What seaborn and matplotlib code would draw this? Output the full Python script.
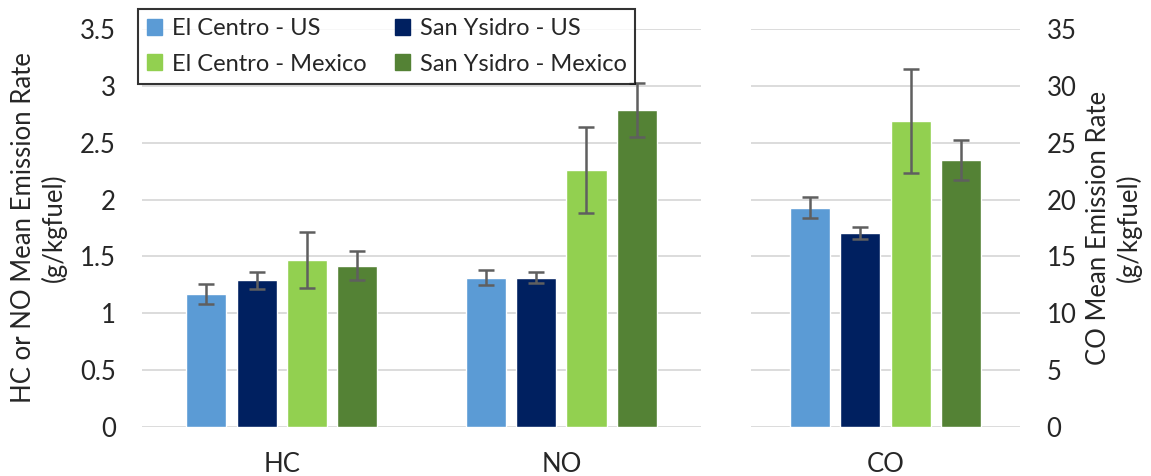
import seaborn as sns
import matplotlib.pyplot as plt
import pandas as pd

# values
sites = ["El Centro - US", "San Ysidro - US", "El Centro - Mexico", "San Ysidro - Mexico"]
colors = ["#5B9BD5", "#002060", "#92D050", "#548235"]

hc_mean = [1.17, 1.29, 1.47, 1.42]
hc_err = [0.09, 0.075, 0.245, 0.13]
no_mean = [1.315, 1.315, 2.26, 2.79]
no_err = [0.07, 0.05, 0.375, 0.24]
co_mean = [19.3, 17.1, 26.9, 23.5]
co_err = [0.9, 0.53, 4.55, 1.73]

left_df = pd.DataFrame({
    "Pollutant": ["HC"] * 4 + ["NO"] * 4,
    "Site": sites * 2,
    "Mean": hc_mean + no_mean,
    "Err": hc_err + no_err,
})
right_df = pd.DataFrame({"Pollutant": ["CO"] * 4, "Site": sites, "Mean": co_mean, "Err": co_err})

sns.set_style("white")
plt.rcParams["font.family"] = ["Lato", "DejaVu Sans"]
FS = 18.5

fig = plt.figure(figsize=(11.51, 4.76), dpi=100)
ax1 = fig.add_axes([0.1234, 0.1029, 0.4857, 0.836])
ax2 = fig.add_axes([0.6525, 0.1029, 0.2337, 0.836])

palette = dict(zip(sites, colors))


def draw(ax, df, ymax, step):
    sns.barplot(data=df, x="Pollutant", y="Mean", hue="Site", hue_order=sites,
                palette=palette, width=0.72, gap=0.2, errorbar=None,
                saturation=1, legend=False, ax=ax)
    # error bars on top of each bar, in hue order
    for site, cont in zip(sites, ax.containers):
        sub = df[df["Site"] == site]
        xs = [p.get_x() + p.get_width() / 2 for p in cont.patches]
        ax.errorbar(xs, sub["Mean"].values, yerr=sub["Err"].values, fmt="none",
                    ecolor="#5f5f5f", elinewidth=1.8, capsize=5.5, capthick=1.8, zorder=5)
    ax.set_ylim(0, ymax)
    ax.set_yticks([i * step for i in range(8)])
    ax.yaxis.grid(True, color="#d9d9d9", linewidth=1.3)
    ax.set_axisbelow(True)
    for s in ax.spines.values():
        s.set_visible(False)
    ax.set_xlabel("")
    ax.set_ylabel("")
    ax.tick_params(axis="both", length=0, labelsize=FS)
    ax.tick_params(axis="x", pad=18)


draw(ax1, left_df, 3.5, 0.5)
ax1.set_xlim(-0.5, 1.5)
ax1.set_yticklabels(["0", "0.5", "1", "1.5", "2", "2.5", "3", "3.5"])
ax1.tick_params(axis="y", pad=19)

draw(ax2, right_df, 35, 5)
ax2.set_xlim(-0.481, 0.481)
ax2.yaxis.tick_right()
ax2.tick_params(axis="y", pad=19, labelright=True, labelleft=False)

fig.text(0.034, 0.521, "HC or NO Mean Emission Rate\n(g/kgfuel)", rotation=90,
         ha="center", va="center", fontsize=FS, linespacing=1.25)
fig.text(0.968, 0.521, "CO Mean Emission Rate\n(g/kgfuel)", rotation=90,
         ha="center", va="center", fontsize=FS, linespacing=1.25)

# legend filled column-wise, so order the handles to give US on row 1, Mexico on row 2
order = [0, 2, 1, 3]
handles = [plt.Rectangle((0, 0), 1, 1, color=colors[i]) for i in order]
labels = [sites[i] for i in order]
leg = fig.legend(handles, labels, ncol=2, loc="upper left",
                 bbox_to_anchor=(138 / 1151, 1 - 9 / 476), borderaxespad=0,
                 fontsize=17, frameon=True, fancybox=False,
                 handlelength=0.65, handleheight=0.65, handletextpad=0.4,
                 columnspacing=1.2, borderpad=0.38, labelspacing=0.62)
leg.get_frame().set_edgecolor("black")
leg.get_frame().set_linewidth(1.5)

plt.savefig("out.png", dpi=100)
